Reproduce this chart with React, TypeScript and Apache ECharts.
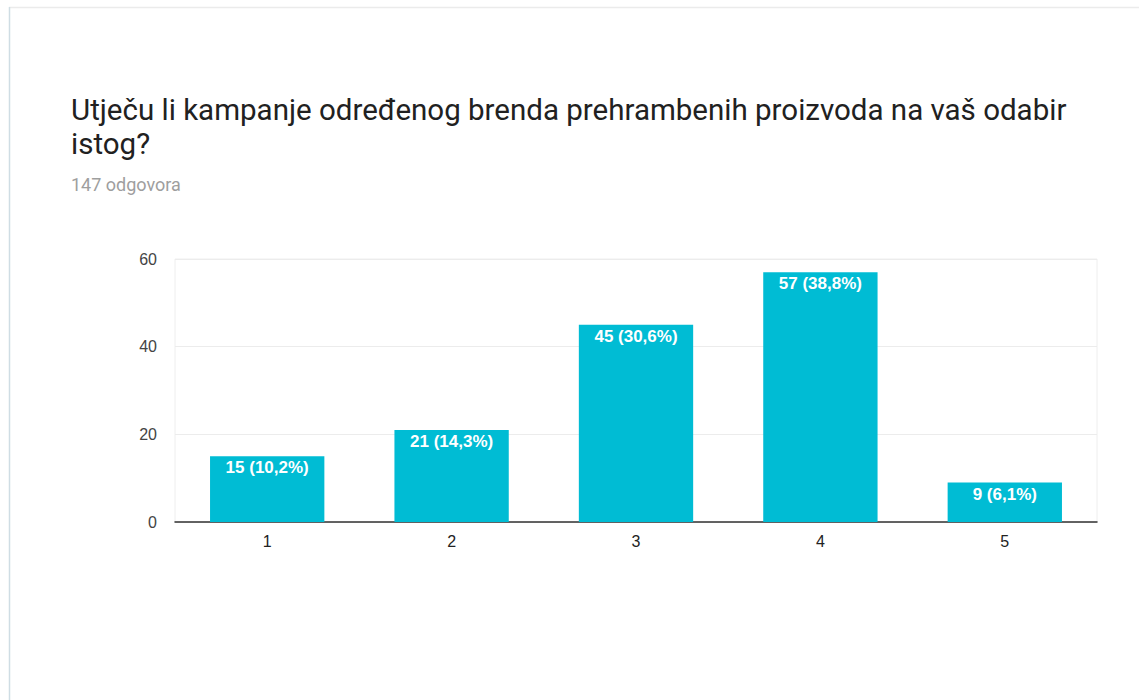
import React, { useEffect, useRef } from "react";
import * as echarts from "echarts";

const categories = ["1", "2", "3", "4", "5"];
const counts = [15, 21, 45, 57, 9];
const percents = ["10,2%", "14,3%", "30,6%", "38,8%", "6,1%"];
const yTicks = [0, 20, 40, 60];

const titleText = "Utječu li kampanje određenog brenda prehrambenih proizvoda na vaš odabir\nistog?";
const subtitleText = "147 odgovora";

export default function App() {
  const ref = useRef<HTMLDivElement>(null);
  useEffect(() => {
    document.body.style.margin = "0";
    const chart = echarts.init(ref.current!, null, { renderer: "svg" });
    chart.setOption({
      animation: false,
      backgroundColor: "#ffffff",
      title: {
        text: titleText,
        subtext: subtitleText,
        left: 66,
        top: 88,
        itemGap: 14,
        textStyle: {
          fontFamily: "Roboto",
          fontSize: 29.5,
          fontWeight: "normal",
          color: "#212121",
          lineHeight: 34,
        },
        subtextStyle: {
          fontFamily: "Roboto",
          fontSize: 18,
          color: "#9e9e9e",
        },
      },
      graphic: [
        {
          type: "line",
          shape: { x1: 9, y1: 7.5, x2: 1139, y2: 7.5 },
          style: { stroke: "#ebebeb", lineWidth: 1.5 },
        },
        {
          type: "line",
          shape: { x1: 9.5, y1: 7, x2: 9.5, y2: 700 },
          style: { stroke: "#cfdde4", lineWidth: 1.5 },
        },
      ],
      grid: {
        left: 175,
        top: 259,
        width: 922,
        height: 263,
        show: true,
        borderColor: "#eeeeee",
        borderWidth: 1,
        containLabel: false,
      },
      xAxis: {
        type: "category",
        data: categories,
        axisLine: { lineStyle: { color: "#333333", width: 1.5 } },
        axisTick: { show: false },
        axisLabel: {
          color: "#222222",
          fontSize: 16,
          fontFamily: "Arial",
          margin: 11,
        },
      },
      yAxis: {
        type: "value",
        min: yTicks[0],
        max: yTicks[yTicks.length - 1],
        interval: 20,
        axisLine: { show: false },
        axisTick: { show: false },
        axisLabel: {
          color: "#444444",
          fontSize: 16,
          fontFamily: "Arial",
          margin: 18,
        },
        splitLine: { lineStyle: { color: "#ececec", width: 1 } },
      },
      series: [
        {
          type: "bar",
          data: counts,
          barWidth: "62%",
          itemStyle: { color: "#00bcd4" },
          label: {
            show: true,
            position: "insideTop",
            distance: 3,
            color: "#ffffff",
            fontSize: 17,
            fontFamily: "Arial",
            fontWeight: "bold",
            formatter: (p: any) => `${p.value} (${percents[p.dataIndex]})`,
          },
        },
      ],
    });
    return () => chart.dispose();
  }, []);
  return <div ref={ref} style={{ width: 1139, height: 700 }} />;
}
